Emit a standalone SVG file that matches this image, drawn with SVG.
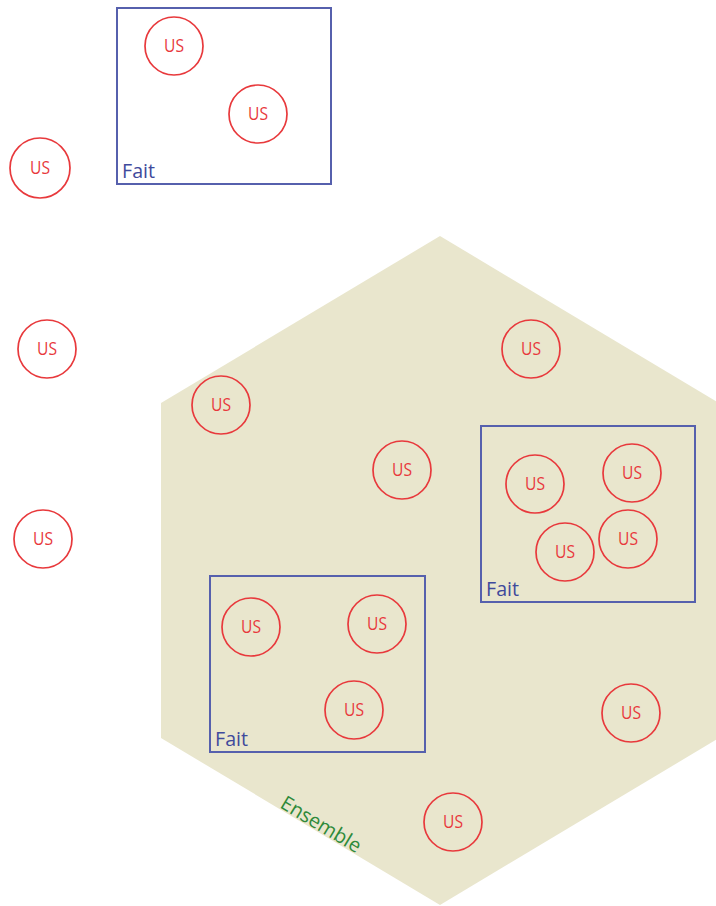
<svg xmlns="http://www.w3.org/2000/svg" width="716" height="906" viewBox="0 0 716 906">
<style>
.us circle{fill:none;stroke:#e8393c;stroke-width:1.7}
.us text{font-family:"Open Sans","Liberation Sans",sans-serif;font-size:18px;fill:#e8393c;text-anchor:middle}
.fait rect{fill:none;stroke:#5660ad;stroke-width:2}
.fait text{font-family:"Open Sans","Liberation Sans",sans-serif;font-size:20px;fill:#3f4a9c}
</style>
<rect width="716" height="906" fill="#ffffff"/>
<g id="ensemble">
<polygon points="440,236 719,403 719,738 440,905 161,738 161,403" fill="#e9e6cd"/>
<text x="0" y="0" transform="translate(279,807) rotate(31)" font-family="Open Sans, Liberation Sans, sans-serif" font-size="20" textLength="90" lengthAdjust="spacingAndGlyphs" fill="#2e8a3a">Ensemble</text>
</g>
<g id="fait1" class="fait"><rect x="117" y="8" width="214" height="176"/><text x="122" y="178" textLength="33" lengthAdjust="spacingAndGlyphs">Fait</text></g>
<g id="fait2" class="fait"><rect x="481" y="426" width="214" height="176"/><text x="486" y="596" textLength="33" lengthAdjust="spacingAndGlyphs">Fait</text></g>
<g id="fait3" class="fait"><rect x="210" y="576" width="215" height="176"/><text x="215" y="746" textLength="33" lengthAdjust="spacingAndGlyphs">Fait</text></g>
<g id="us1" class="us"><circle cx="174" cy="46" r="29"/><text x="174" y="52" textLength="20" lengthAdjust="spacingAndGlyphs">US</text></g>
<g id="us2" class="us"><circle cx="258" cy="114" r="29"/><text x="258" y="120" textLength="20" lengthAdjust="spacingAndGlyphs">US</text></g>
<g id="us3" class="us"><circle cx="40" cy="168" r="30"/><text x="40" y="174" textLength="20" lengthAdjust="spacingAndGlyphs">US</text></g>
<g id="us4" class="us"><circle cx="47" cy="349" r="29"/><text x="47" y="355" textLength="20" lengthAdjust="spacingAndGlyphs">US</text></g>
<g id="us5" class="us"><circle cx="43" cy="539" r="29"/><text x="43" y="545" textLength="20" lengthAdjust="spacingAndGlyphs">US</text></g>
<g id="us6" class="us"><circle cx="221" cy="405" r="29"/><text x="221" y="411" textLength="20" lengthAdjust="spacingAndGlyphs">US</text></g>
<g id="us7" class="us"><circle cx="531" cy="349" r="29"/><text x="531" y="355" textLength="20" lengthAdjust="spacingAndGlyphs">US</text></g>
<g id="us8" class="us"><circle cx="402" cy="470" r="29"/><text x="402" y="476" textLength="20" lengthAdjust="spacingAndGlyphs">US</text></g>
<g id="us9" class="us"><circle cx="535" cy="484" r="29"/><text x="535" y="490" textLength="20" lengthAdjust="spacingAndGlyphs">US</text></g>
<g id="us10" class="us"><circle cx="632" cy="473" r="29"/><text x="632" y="479" textLength="20" lengthAdjust="spacingAndGlyphs">US</text></g>
<g id="us11" class="us"><circle cx="565" cy="552" r="29"/><text x="565" y="558" textLength="20" lengthAdjust="spacingAndGlyphs">US</text></g>
<g id="us12" class="us"><circle cx="628" cy="539" r="29"/><text x="628" y="545" textLength="20" lengthAdjust="spacingAndGlyphs">US</text></g>
<g id="us13" class="us"><circle cx="251" cy="627" r="29"/><text x="251" y="633" textLength="20" lengthAdjust="spacingAndGlyphs">US</text></g>
<g id="us14" class="us"><circle cx="377" cy="624" r="29"/><text x="377" y="630" textLength="20" lengthAdjust="spacingAndGlyphs">US</text></g>
<g id="us15" class="us"><circle cx="354" cy="710" r="29"/><text x="354" y="716" textLength="20" lengthAdjust="spacingAndGlyphs">US</text></g>
<g id="us16" class="us"><circle cx="631" cy="713" r="29"/><text x="631" y="719" textLength="20" lengthAdjust="spacingAndGlyphs">US</text></g>
<g id="us17" class="us"><circle cx="453" cy="822" r="29"/><text x="453" y="828" textLength="20" lengthAdjust="spacingAndGlyphs">US</text></g>
<g id="connectors"></g>
</svg>
